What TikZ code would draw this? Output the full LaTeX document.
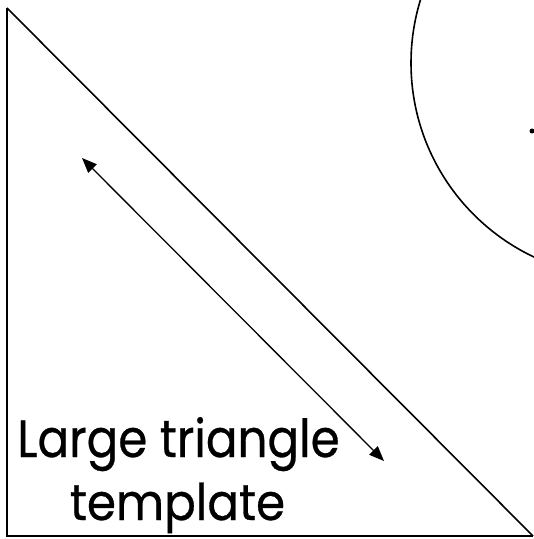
\documentclass[tikz,border=0pt]{standalone}
\usepackage{fontspec}
\setmainfont{Poppins}
\newfontfamily\lblfont{Poppins}[FakeBold=0.6]
\usetikzlibrary{arrows.meta}
\begin{document}
\begin{tikzpicture}[x=1bp,y=-1bp,
  edge/.style={line width=1.6bp,line join=miter},
  dim/.style={line width=1.3bp,{Triangle[length=15bp,width=12bp]}-{Triangle[length=15bp,width=12bp]}},
  label/.style={inner sep=0pt,anchor=base,font=\lblfont\fontsize{47}{66}\selectfont}]
\useasboundingbox (0,0) rectangle (534,539);
\coordinate (A) at (7,8);
\coordinate (B) at (7,536);
\coordinate (C) at (533,536);
\draw[edge] (C) -- (A);
\draw[edge,line width=2.2bp] (A) -- (B) -- (C);
\draw[line width=1.6bp] (625.5,63) circle[radius=214.5];
\fill (532,131) circle[radius=2.5bp];
\coordinate (P) at (82,158);
\coordinate (Q) at (384,461);
\draw[dim] (P) -- (Q);
\node[label] (t1) at (178.5,457) {\scalebox{1}[1.12]{Large triangle}};
\node[label] (t2) at (177.5,520) {\scalebox{1}[1.08]{template}};
\end{tikzpicture}
\end{document}
